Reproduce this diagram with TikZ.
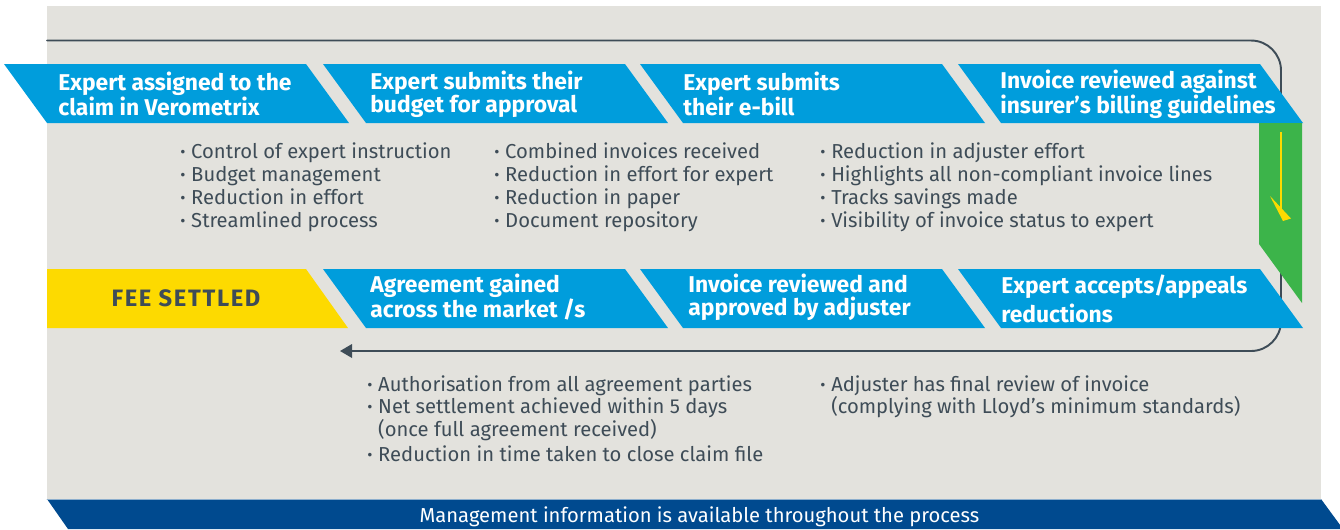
\documentclass[tikz,border=0pt]{standalone}
\usepackage{fontspec}
\setmainfont{Fira Sans}
\usetikzlibrary{arrows.meta}
\definecolor{bggrey}{HTML}{E3E2DD}
\definecolor{stepblue}{HTML}{009DDC}
\definecolor{feeyellow}{HTML}{FDDA00}
\definecolor{chkgreen}{HTML}{3CB44A}
\definecolor{mibar}{HTML}{004A8F}
\definecolor{txtgrey}{HTML}{3E4C57}
\newcommand\bul{\makebox[6.2pt][l]{\raisebox{0.1ex}{\fontsize{9}{9}\selectfont •}}}
\newcommand\ind{\hspace*{6.2pt}}
\begin{document}
\begin{tikzpicture}[x=0.02cm,y=-0.02cm,line join=round,line cap=round,
	head/.style={text=white,font=\fontsize{13}{13}\selectfont\bfseries,align=left,anchor=west,inner sep=0pt},
	blist/.style={text=txtgrey,font=\fontsize{11.5}{13}\selectfont,align=left,inner sep=0pt},
	flow/.style={draw=txtgrey,line width=1.1pt}]
	\useasboundingbox (0,0) rectangle (1340,529);
	\fill[bggrey] (47,6) rectangle (1321,499);
	\fill[mibar] (47,499) -- (1321,499) -- (1343,529) -- (68,529) -- cycle;
	\draw[mibar!45!white,line width=0.5pt] (47,499.5) -- (1321,499.5);
	\path
	(47,40.5)coordinate(L0)
	(1281,40.5)coordinate(L1)
	(1281,351)coordinate(L2)
	(340,351)coordinate(L3)
	(1281,132)coordinate(Y0)
	(1281,212)coordinate(Y1)
	;
	\draw[flow,rounded corners=0.6cm,-{Triangle[length=0.24cm,width=0.27cm]}] (L0)--(L1)--(L2)--(L3);
	\foreach \x in {4,323,640,958} \fill[stepblue](\x,64)--++(302,0)--++(43,59)--++(-302,0)--cycle;
	\foreach \x in {323,640,958} \fill[stepblue](\x,269)--++(302,0)--++(43,59)--++(-302,0)--cycle;
	\fill[feeyellow](47,269)--(306,269)--(348,328)--(47,328)--cycle;
	\fill[chkgreen](1259,123)--(1302,123)--(1302,303)--(1259,244)--cycle;
	\draw[feeyellow,line width=1.2pt,line cap=butt] (Y0)--(Y1);
	\fill[feeyellow](1270,196)--(1291,218.5)--(1283,221)--cycle;
	\node[head] (t1) at (58,94) {Expert assigned to the\\claim in Verometrix};
	\node[head] (t2) at (370,94) {Expert submits their\\budget for approval};
	\node[head] (t3) at (683,94) {Expert submits\\their e-bill};
	\node[head] (t4) at (1000,94) {Invoice reviewed against\\insurer’s billing guidelines};
	\node[head,text=txtgrey,anchor=center,font=\fontsize{13.5}{13}\selectfont\bfseries\addfontfeature{LetterSpace=7}] (b1) at (186,298) {FEE SETTLED};
	\node[head] (b2) at (370,297) {Agreement gained\\across the market /s};
	\node[head] (b3) at (688,297) {Invoice reviewed and\\approved by adjuster};
	\node[head] (b4) at (1001,298.5) {Expert accepts/appeals\\[2pt]reductions};
	\node[blist,anchor=west] (l1) at (180,187.5) {\bul Control of expert instruction\\\bul Budget management\\\bul Reduction in effort\\\bul Streamlined process};
	\node[blist,anchor=west] (l2) at (494,187.5) {\bul Combined invoices received\\\bul Reduction in effort for expert\\\bul Reduction in paper\\\bul Document repository};
	\node[blist,anchor=west] (l3) at (820,187.5) {\bul Reduction in adjuster effort\\\bul Highlights all non-compliant invoice lines\\\bul Tracks savings made\\\bul Visibility of invoice status to expert};
	\node[blist,anchor=north west] (l4) at (367,375) {\bul Authorisation from all agreement parties\\\bul Net settlement achieved within 5 days\\\ind(once full agreement received)\\[1pt]\bul Reduction in time taken to close claim file};
	\node[blist,anchor=north west] (l5) at (820,375) {\bul Adjuster has final review of invoice\\\ind(complying with Lloyd’s minimum standards)};
	\node[text=white,font=\fontsize{11.5}{13}\selectfont,inner sep=0pt] (mi) at (699.5,517) {Management information is available throughout the process};
\end{tikzpicture}
\end{document}
